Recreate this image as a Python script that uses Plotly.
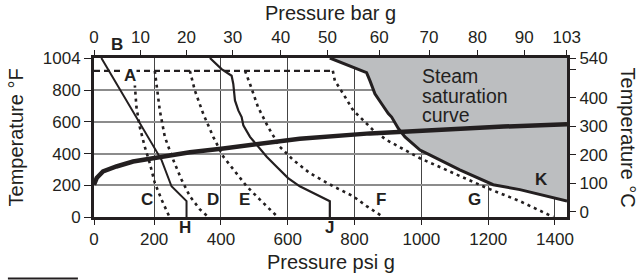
import plotly.graph_objects as go

# ---------------- axis ticks ----------------
psi_tick_pos = [20, 200, 400, 600, 800, 1000, 1200, 1400]
psi_tick_text = ["0", "200", "400", "600", "800", "1000", "1200", "1400"]
bar_tick_pos = [20, 159, 297, 435, 579, 719, 874, 1023, 1168, 1308, 1435]
bar_tick_text = ["0", "10", "20", "30", "40", "50", "60", "70", "80", "90", "103"]
degF_ticks = [0, 200, 400, 600, 800, 1004]
degC_ticks = [0, 100, 200, 300, 400, 500, 540]
degC_text = ["0", "100", "200", "300", "400", "", "540"]

# ---------------- data (psi g, °F) ----------------
dash_psi = [20, 735]
dash_T = [923, 923]

a_psi = [137, 142, 147, 157, 172, 187, 202, 222, 246]
a_T = [923, 840, 694, 569, 444, 340, 215, 111, 0]

bh_psi = [42, 152, 222, 252, 297, 297]
bh_T = [1004, 611, 361, 194, 100, 0]

d_psi = [202, 207, 217, 232, 257, 282, 307, 337, 362]
d_T = [923, 840, 673, 506, 361, 236, 131, 48, 0]

e_psi = [307, 322, 347, 377, 407, 437, 477, 516, 570]
e_T = [923, 798, 652, 506, 381, 298, 194, 111, 0]

j_psi = [367, 402, 432, 437, 442, 452, 462, 467, 487, 511, 537, 566, 601, 636, 676, 726, 726]
j_T = [1004, 934, 892, 840, 736, 673, 631, 579, 506, 444, 381, 319, 246, 194, 152, 100, 0]

f_psi = [472, 487, 511, 541, 576, 616, 666, 736, 796, 836, 886]
f_T = [923, 840, 694, 569, 444, 361, 277, 194, 131, 69, 0]

g_psi = [735, 741, 766, 796, 826, 856, 896, 996, 1095, 1195, 1295, 1395]
g_T = [923, 861, 778, 673, 611, 548, 486, 371, 278, 184, 100, 0]

k_psi = [726, 836, 846, 861, 881, 901, 911, 931, 951, 996, 1025, 1115, 1215, 1295, 1436]
k_T = [1004, 912, 861, 778, 715, 653, 631, 559, 506, 423, 392, 298, 204, 173, 100]

sat_psi = [20, 28, 47, 87, 137, 207, 307, 407, 510, 636, 846, 1046, 1246, 1436]
sat_T = [204, 246, 288, 319, 350, 377, 409, 433, 462, 494, 528, 553, 571, 586]

X_RANGE = [20, 1436]
Y_RANGE = [0, 1004]

INK = "#231f20"
FONT = "Liberation Sans, Arial, sans-serif"

fig = go.Figure()

# shaded steam region
fig.add_trace(go.Scatter(
    x=k_psi + [X_RANGE[1]], y=k_T + [Y_RANGE[1]],
    fill="toself", fillcolor="#bcbec0", mode="lines",
    line=dict(color="rgba(0,0,0,0)", width=0), hoverinfo="skip", showlegend=False))

def line(x, y, width, dash="solid"):
    fig.add_trace(go.Scatter(x=x, y=y, mode="lines", showlegend=False,
                             line=dict(color=INK, width=width, dash=dash)))

line(dash_psi, dash_T, 2.2, "6px,4px")
for xs, ys in [(a_psi, a_T), (d_psi, d_T), (e_psi, e_T), (f_psi, f_T), (g_psi, g_T)]:
    line(xs, ys, 2.6, "3px,4px")
line(bh_psi, bh_T, 2)
line(j_psi, j_T, 2.2)
line(k_psi, k_T, 3)
line(sat_psi, sat_T, 4.5)

# secondary axes (top bar, right °C)
fig.add_trace(go.Scatter(x=[X_RANGE[0]], y=[0], xaxis="x2", mode="markers",
                         marker=dict(opacity=0), showlegend=False, hoverinfo="skip"))
fig.add_trace(go.Scatter(x=[X_RANGE[0]], y=[0], yaxis="y2", mode="markers",
                         marker=dict(opacity=0), showlegend=False, hoverinfo="skip"))

axfont = dict(family=FONT, size=17, color=INK)

fig.update_layout(
    width=642, height=280,
    margin=dict(l=94, r=75, t=58, b=63, autoexpand=False),
    paper_bgcolor="white", plot_bgcolor="white",
    showlegend=False,
    font=dict(family=FONT, color=INK),
    xaxis=dict(range=X_RANGE, tickvals=psi_tick_pos, ticktext=psi_tick_text,
               showgrid=True, gridcolor="#444", gridwidth=1, zeroline=False,
               showline=True, linecolor=INK, linewidth=3,
               ticks="outside", ticklen=5, tickcolor=INK, tickfont=axfont),
    xaxis2=dict(range=X_RANGE, overlaying="x", side="top",
                tickvals=bar_tick_pos, ticktext=bar_tick_text,
                showgrid=False, zeroline=False,
                showline=True, linecolor=INK, linewidth=3,
                ticks="outside", ticklen=5, tickcolor=INK, tickfont=axfont),
    yaxis=dict(range=Y_RANGE, tickvals=degF_ticks,
               showgrid=True, gridcolor="#8c8c8c", gridwidth=1.6, zeroline=False,
               showline=True, linecolor=INK, linewidth=3,
               ticks="outside", ticklen=7, tickcolor=INK, tickfont=axfont),
    yaxis2=dict(range=[(Y_RANGE[0] - 32) / 1.8, (Y_RANGE[1] - 32) / 1.8],
                overlaying="y", side="right",
                tickvals=degC_ticks, ticktext=degC_text,
                showgrid=False, zeroline=False,
                showline=True, linecolor=INK, linewidth=3,
                ticks="outside", ticklen=6, tickcolor=INK, tickfont=axfont),
)

title_font = dict(family=FONT, size=20, color=INK)
C = dict(xanchor="center", yanchor="middle", showarrow=False)
ann = [
    dict(text="Pressure bar g", xref="paper", yref="paper", x=0.5, y=1.283, font=title_font, **C),
    dict(text="Pressure psi g", xref="paper", yref="paper", x=0.5, y=-0.283, font=title_font, **C),
    dict(text="Temperature °F", xref="paper", yref="paper", x=-0.165, y=0.5, textangle=-90, font=title_font, **C),
    dict(text="Temperature °C", xref="paper", yref="paper", x=1.131, y=0.5, textangle=90, font=title_font, **C),
]
steam_font = dict(family=FONT, size=19.5, color=INK)
for txt, yv in [("Steam", 892), ("saturation", 767), ("curve", 642)]:
    ann.append(dict(text=txt, x=996, y=yv, xref="x", yref="y", xanchor="left",
                    yanchor="middle", showarrow=False, font=steam_font))

bold = dict(family=FONT, size=17, color=INK)
letters_in = [("A", 127, 892), ("C", 178, 111), ("D", 376, 111), ("E", 472, 111),
              ("F", 879, 111), ("G", 1160, 111), ("K", 1361, 236)]
for t, xv, yv in letters_in:
    d = dict(text="<b>%s</b>" % t, x=xv, y=yv, xref="x", yref="y", font=bold, **C)
    if t == "A":
        d.update(bgcolor="white", borderpad=0)
    ann.append(d)
letters_out = [("B", 88, 1.088), ("H", 292, -0.069), ("J", 726, -0.069)]
for t, xv, yp in letters_out:
    ann.append(dict(text="<b>%s</b>" % t, x=xv, y=yp, xref="x", yref="paper",
                    font=bold, **C))

fig.update_layout(annotations=ann)

fig.add_shape(type="line", xref="paper", yref="paper",
              x0=-0.182, x1=-0.034, y0=-0.387, y1=-0.387,
              line=dict(color=INK, width=2))

fig.write_html("out.html",
               config={"displayModeBar": False},
               post_script="document.body.style.margin='0';document.body.style.padding='0';")
